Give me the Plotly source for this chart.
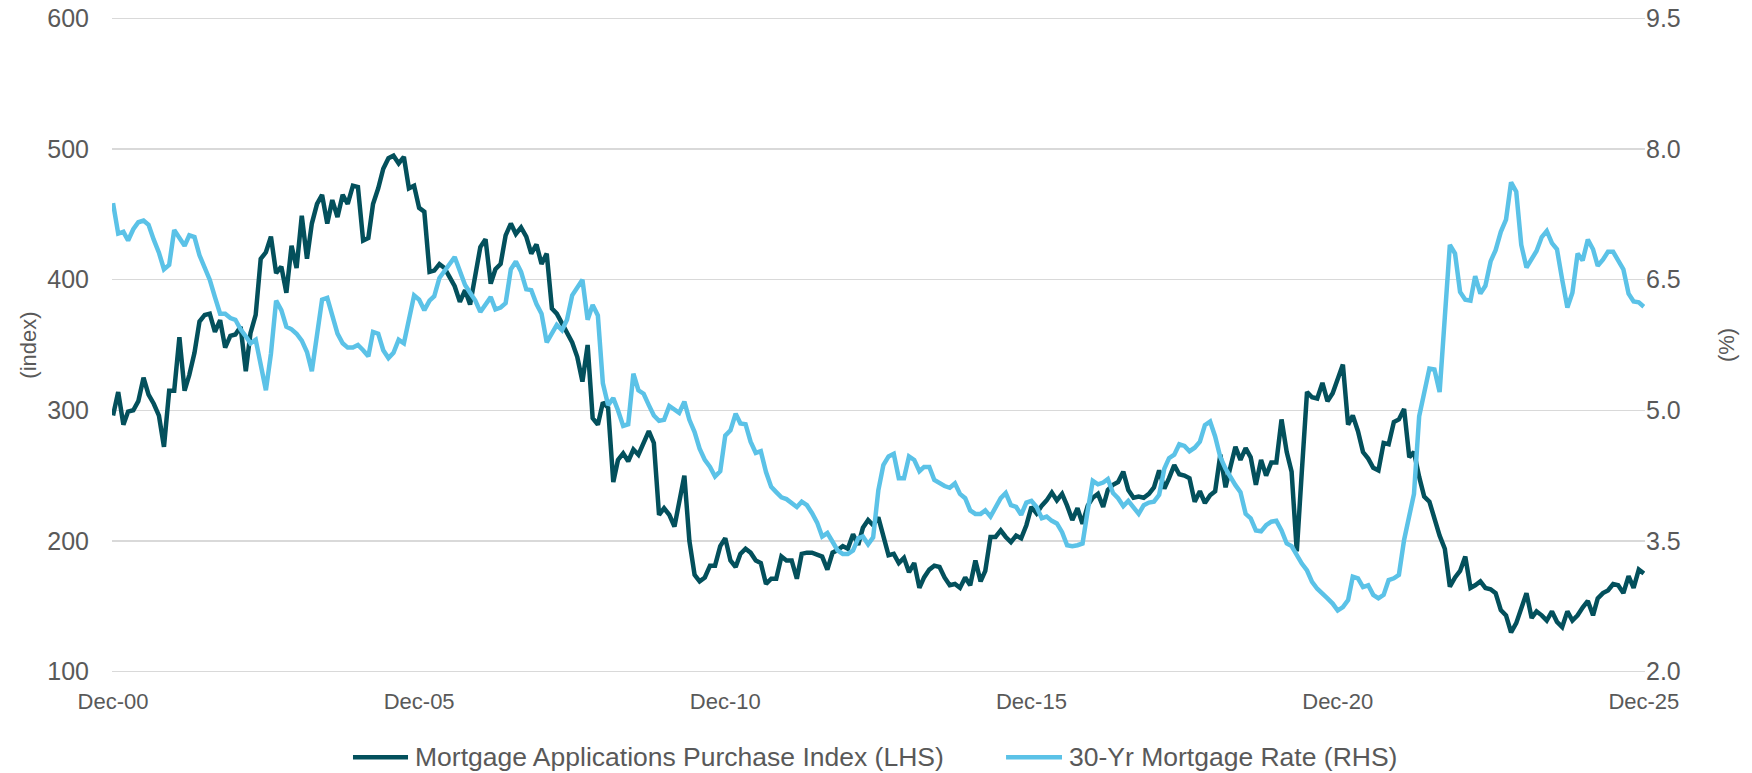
import pandas as pd
import plotly.graph_objects as go

# Monthly observations, Dec-2000 .. Dec-2025
months = pd.date_range("2000-12-01", periods=301, freq="MS")

purchase_index = [
    296, 314, 289, 299, 300, 307, 325, 312, 305, 296,
    272, 315, 315, 356, 315, 327, 344, 368, 373, 374,
    360, 369, 348, 357, 358, 364, 330, 359, 373, 416,
    421, 433, 405, 410, 390, 426, 409, 449, 416, 443,
    458, 465, 443, 461, 448, 465, 458, 472, 471, 430,
    432, 458, 470, 485, 493, 495, 489, 494, 470, 472,
    455, 452, 406, 407, 412, 409, 402, 395, 383, 392,
    381, 404, 425, 431, 397, 408, 412, 434, 443, 435,
    440, 433, 420, 427, 412, 420, 378, 374, 366, 359,
    352, 341, 322, 350, 294, 289, 306, 302, 245, 262,
    267, 261, 270, 266, 276, 284, 275, 220, 225, 220,
    211, 231, 250, 200, 174, 169, 172, 181, 181, 196,
    202, 185, 180, 190, 194, 191, 185, 183, 167, 171,
    171, 188, 185, 185, 171, 190, 191, 191, 189, 188,
    178, 191, 193, 196, 194, 205, 197, 210, 216, 212,
    218, 202, 189, 190, 183, 187, 176, 183, 164, 172,
    178, 181, 180, 172, 166, 167, 164, 172, 166, 185,
    169, 177, 203, 203, 208, 203, 199, 204, 202, 212,
    226, 221, 227, 231, 237, 231, 236, 227, 216, 225,
    213, 227, 233, 236, 226, 239, 243, 245, 253, 239,
    233, 234, 233, 236, 241, 254, 240, 248, 258, 251,
    250, 248, 230, 238, 229, 235, 238, 266, 241, 256,
    272, 262, 271, 264, 243, 262, 250, 260, 260, 293,
    268, 253, 192, 253, 314, 310, 309, 321, 307, 313,
    323, 335, 289, 296, 284, 268, 263, 256, 254, 275,
    274, 291, 293, 301, 264, 268, 249, 234, 230, 217,
    204, 194, 165, 172, 177, 188, 164, 166, 169, 164,
    163, 160, 147, 143, 130, 137, 149, 160, 141, 146,
    143, 139, 146, 138, 134, 146, 139, 143, 149, 154,
    143, 156, 160, 162, 167, 166, 160, 173, 164, 178, 175,
]

mortgage_rate = [
    7.38, 7.03, 7.05, 6.95, 7.08, 7.16, 7.18, 7.13, 6.96, 6.81,
    6.62, 6.67, 7.07, 6.99, 6.89, 7.01, 6.99, 6.78, 6.65, 6.50,
    6.30, 6.11, 6.11, 6.06, 6.04, 5.93, 5.85, 5.77, 5.81, 5.52,
    5.23, 5.65, 6.26, 6.15, 5.96, 5.93, 5.88, 5.80, 5.67, 5.45,
    5.88, 6.27, 6.29, 6.07, 5.88, 5.77, 5.72, 5.72, 5.75, 5.69,
    5.62, 5.90, 5.88, 5.69, 5.60, 5.66, 5.81, 5.77, 6.06, 6.32,
    6.27, 6.15, 6.26, 6.31, 6.52, 6.61, 6.68, 6.76, 6.61, 6.44,
    6.35, 6.26, 6.13, 6.22, 6.30, 6.16, 6.18, 6.23, 6.62, 6.71,
    6.59, 6.39, 6.38, 6.22, 6.11, 5.78, 5.88, 5.98, 5.92, 6.04,
    6.32, 6.40, 6.50, 6.04, 6.21, 6.09, 5.31, 5.06, 5.14, 5.00,
    4.82, 4.84, 5.42, 5.23, 5.19, 5.06, 4.94, 4.88, 4.89, 5.05,
    5.00, 4.97, 5.10, 4.89, 4.75, 4.56, 4.43, 4.35, 4.24, 4.30,
    4.71, 4.77, 4.96, 4.85, 4.84, 4.64, 4.51, 4.53, 4.29, 4.12,
    4.06, 4.00, 3.98, 3.94, 3.89, 3.95, 3.91, 3.82, 3.71, 3.55,
    3.59, 3.49, 3.39, 3.35, 3.35, 3.39, 3.53, 3.55, 3.46, 3.54,
    4.08, 4.37, 4.47, 4.50, 4.22, 4.22, 4.47, 4.43, 4.30, 4.35,
    4.35, 4.20, 4.16, 4.13, 4.11, 4.16, 4.04, 3.99, 3.85, 3.81,
    3.81, 3.85, 3.78, 3.89, 3.99, 4.05, 3.91, 3.89, 3.80, 3.94,
    3.96, 3.89, 3.76, 3.78, 3.73, 3.70, 3.60, 3.45, 3.44, 3.45,
    3.47, 3.85, 4.19, 4.15, 4.17, 4.21, 4.05, 3.99, 3.90, 3.96,
    3.89, 3.81, 3.91, 3.94, 3.95, 4.03, 4.33, 4.45, 4.49, 4.61,
    4.59, 4.53, 4.57, 4.64, 4.83, 4.87, 4.70, 4.46, 4.33, 4.23,
    4.14, 4.06, 3.81, 3.76, 3.62, 3.61, 3.68, 3.72, 3.73, 3.62,
    3.47, 3.44, 3.33, 3.24, 3.16, 3.03, 2.95, 2.90, 2.84, 2.78,
    2.70, 2.74, 2.82, 3.09, 3.07, 2.97, 2.99, 2.88, 2.84, 2.88,
    3.05, 3.07, 3.11, 3.51, 3.78, 4.04, 4.93, 5.19, 5.48, 5.47,
    5.21, 6.07, 6.90, 6.80, 6.36, 6.27, 6.26, 6.54, 6.34, 6.43,
    6.71, 6.84, 7.05, 7.19, 7.62, 7.51, 6.90, 6.64, 6.75, 6.83,
    6.99, 7.06, 6.92, 6.85, 6.50, 6.18, 6.35, 6.80, 6.72, 6.96,
    6.85, 6.66, 6.73, 6.82, 6.82, 6.73, 6.62, 6.34, 6.25, 6.24, 6.19,
]

series_names = ["Mortgage Applications Purchase Index (LHS)", "30-Yr Mortgage Rate (RHS)"]
tick_dates = ["2000-12-01", "2005-12-01", "2010-12-01", "2015-12-01", "2020-12-01", "2025-12-01"]
tick_labels = ["Dec-00", "Dec-05", "Dec-10", "Dec-15", "Dec-20", "Dec-25"]
left_ticks = [100, 200, 300, 400, 500, 600]
right_ticks = [2.0, 3.5, 5.0, 6.5, 8.0, 9.5]

DARK = "#03505C"
LIGHT = "#5BC2E7"
GREY = "#595959"
FONT = "Liberation Sans, Arial, sans-serif"
NBSP = "\u00a0"

fig = go.Figure()
fig.add_trace(go.Scatter(
    x=months, y=purchase_index, mode="lines", name=series_names[0],
    line=dict(color=DARK, width=4.5), yaxis="y", showlegend=False,
))
fig.add_trace(go.Scatter(
    x=months, y=mortgage_rate, mode="lines", name=series_names[1],
    line=dict(color=LIGHT, width=4.5), yaxis="y2", showlegend=False,
))

# Legend drawn in paper space (line samples + labels)
LEG_Y = -0.119
legend_items = [
    (DARK, 0.1572, 0.1931, 0.1963, series_names[0]),
    (LIGHT, 0.5832, 0.6197, 0.6230, series_names[1]),
]
for color, x0, x1, xt, label in legend_items:
    fig.add_shape(type="line", xref="paper", yref="paper",
                  x0=x0, x1=x1, y0=LEG_Y, y1=LEG_Y,
                  line=dict(color=color, width=4.5))
    fig.add_annotation(xref="paper", yref="paper", x=xt, y=LEG_Y,
                       xanchor="left", yanchor="middle", showarrow=False,
                       text=label, font=dict(family=FONT, size=26.5, color=GREY))

# Value ranges are padded slightly so the 600 / 9.5 gridline stays inside the plot.
fig.update_layout(
    width=1752, height=773,
    paper_bgcolor="white", plot_bgcolor="white",
    margin=dict(l=112, r=107, t=12, b=95, autoexpand=False),
    font=dict(family=FONT, size=23, color=GREY),
    showlegend=False,
    hovermode=False,
    xaxis=dict(
        type="date", automargin=False,
        range=["2000-11-25", "2025-12-08"],
        tickvals=tick_dates, ticktext=tick_labels,
        showgrid=False, showline=False, zeroline=False,
        ticks="", ticklabelstandoff=8,
        tickfont=dict(size=22, color=GREY),
    ),
    yaxis=dict(
        range=[95, 605], tickvals=left_ticks, automargin=False,
        showgrid=True, gridcolor="#D9D9D9", gridwidth=1.5,
        zeroline=False, showline=False, ticks="",
        ticklabelstandoff=22, ticklabeloverflow="allow",
        tickfont=dict(size=25, color=GREY),
        title=dict(text="(index)", standoff=4, font=dict(size=22, color=GREY)),
    ),
    yaxis2=dict(
        range=[1.925, 9.575], tickvals=right_ticks, tickformat=".1f",
        tickprefix=NBSP * 2,
        automargin=False, overlaying="y", side="right",
        showgrid=False, zeroline=False, showline=False, ticks="",
        ticklabeloverflow="allow",
        tickfont=dict(size=25, color=GREY),
        title=dict(text="(%)", standoff=38, font=dict(size=22, color=GREY)),
    ),
)

# Remove the default page margin so the figure fills the window exactly.
fig.write_html(
    "out.html",
    config={"displayModeBar": False, "staticPlot": True},
    post_script="document.body.style.margin='0';",
)
